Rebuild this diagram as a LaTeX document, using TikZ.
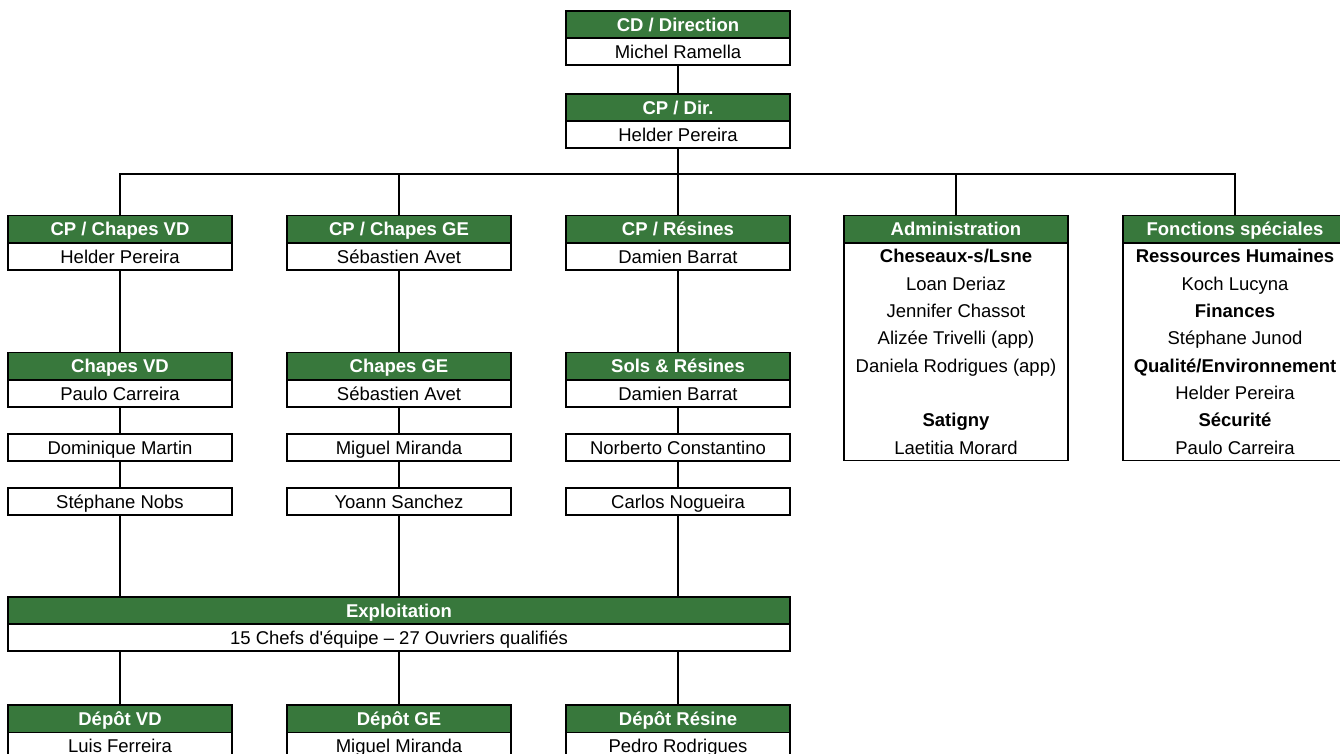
\documentclass[tikz,border=0pt]{standalone}
\usepackage{fontspec}
\setmainfont{Liberation Sans}
\definecolor{hdrgreen}{RGB}{56,120,60}
\tikzset{
  x=1pt, y=-1pt,
  boxbase/.style={draw=black, line width=1.8pt, minimum width=224pt, inner sep=0pt, anchor=north,
    text height=13.2pt, text depth=0pt},
  hd/.style={boxbase, fill=hdrgreen, text=white, font=\fontsize{18.5}{22}\selectfont\bfseries, minimum height=27.5pt},
  bd/.style={boxbase, fill=white, text=black, font=\fontsize{18.5}{22}\selectfont, minimum height=27pt},
  listbd/.style={draw=black, line width=1.8pt, minimum width=224pt, inner sep=0pt, anchor=north,
    fill=white, align=center, font=\fontsize{18.5}{27.3}\selectfont, minimum height=217pt},
  link/.style={line width=1.8pt, black}
}
\begin{document}
\begin{tikzpicture}
\useasboundingbox (0,0) rectangle (1340,754);
\clip (0,0) rectangle (1340,754);

% top
\node[hd] (toph) at (678,10) {CD / Direction};
\node[bd] (topb) at (678,37.5) {Michel Ramella};
\node[hd] (dirh) at (678,93) {CP / Dir.};
\node[bd] (dirb) at (678,120.5) {Helder Pereira};

% row 1
\node[hd] (c1h) at (120,214.5) {CP / Chapes VD};
\node[bd] (c1b) at (120,242) {Helder Pereira};
\node[hd] (c2h) at (399,214.5) {CP / Chapes GE};
\node[bd] (c2b) at (399,242) {Sébastien Avet};
\node[hd] (c3h) at (678,214.5) {CP / Résines};
\node[bd] (c3b) at (678,242) {Damien Barrat};
\node[hd] (c4h) at (956,214.5) {Administration};
\node[listbd] (c4b) at (956,242.5) {\textbf{Cheseaux-s/Lsne}\\Loan Deriaz\\Jennifer Chassot\\Alizée Trivelli (app)\\Daniela Rodrigues (app)\\[27.3pt]\textbf{Satigny}\\Laetitia Morard};
\node[hd] (c5h) at (1235,214.5) {Fonctions spéciales};
\node[listbd] (c5b) at (1235,242.5) {\textbf{Ressources Humaines}\\Koch Lucyna\\\textbf{Finances}\\Stéphane Junod\\\textbf{Qualité/Environnement}\\Helder Pereira\\\textbf{Sécurité}\\Paulo Carreira};

% row 2
\node[hd] (d1h) at (120,351.5) {Chapes VD};
\node[bd] (d1b) at (120,379) {Paulo Carreira};
\node[hd] (d2h) at (399,351.5) {Chapes GE};
\node[bd] (d2b) at (399,379) {Sébastien Avet};
\node[hd] (d3h) at (678,351.5) {Sols \& Résines};
\node[bd] (d3b) at (678,379) {Damien Barrat};

% row 3
\node[bd] (e1) at (120,433) {Dominique Martin};
\node[bd] (e2) at (399,433) {Miguel Miranda};
\node[bd] (e3) at (678,433) {Norberto Constantino};

% row 4
\node[bd] (f1) at (120,487) {Stéphane Nobs};
\node[bd] (f2) at (399,487) {Yoann Sanchez};
\node[bd] (f3) at (678,487) {Carlos Nogueira};

% exploitation
\node[hd, minimum width=782pt] (exh) at (399,596) {Exploitation};
\node[bd, minimum width=782pt] (exb) at (399,623) {15 Chefs d\textquotesingle équipe – 27 Ouvriers qualifiés};

% depots
\node[hd] (g1h) at (120,704) {Dépôt VD};
\node[bd] (g1b) at (120,731.5) {Luis Ferreira};
\node[hd] (g2h) at (399,704) {Dépôt GE};
\node[bd] (g2b) at (399,731.5) {Miguel Miranda};
\node[hd] (g3h) at (678,704) {Dépôt Résine};
\node[bd] (g3b) at (678,731.5) {Pedro Rodrigues};

% connectors
\coordinate (bus) at (678,174);
\draw[link] (topb.south) -- (dirh.north);
\draw[link] (dirb.south) -- (bus);
\draw[link] (c1h.north) -- (c1h.north |- bus) -- (c5h.north |- bus) -- (c5h.north);
\draw[link] (c2h.north) -- (c2h.north |- bus);
\draw[link] (c3h.north) -- (bus);
\draw[link] (c4h.north) -- (c4h.north |- bus);

\draw[link] (c1b.south) -- (d1h.north);
\draw[link] (c2b.south) -- (d2h.north);
\draw[link] (c3b.south) -- (d3h.north);
\draw[link] (d1b.south) -- (e1.north);
\draw[link] (d2b.south) -- (e2.north);
\draw[link] (d3b.south) -- (e3.north);
\draw[link] (e1.south) -- (f1.north);
\draw[link] (e2.south) -- (f2.north);
\draw[link] (e3.south) -- (f3.north);
\draw[link] (f1.south) -- (f1.south |- exh.north);
\draw[link] (f2.south) -- (f2.south |- exh.north);
\draw[link] (f3.south) -- (f3.south |- exh.north);
\draw[link] (exb.south -| g1h.north) -- (g1h.north);
\draw[link] (exb.south -| g2h.north) -- (g2h.north);
\draw[link] (exb.south -| g3h.north) -- (g3h.north);
\end{tikzpicture}
\end{document}
